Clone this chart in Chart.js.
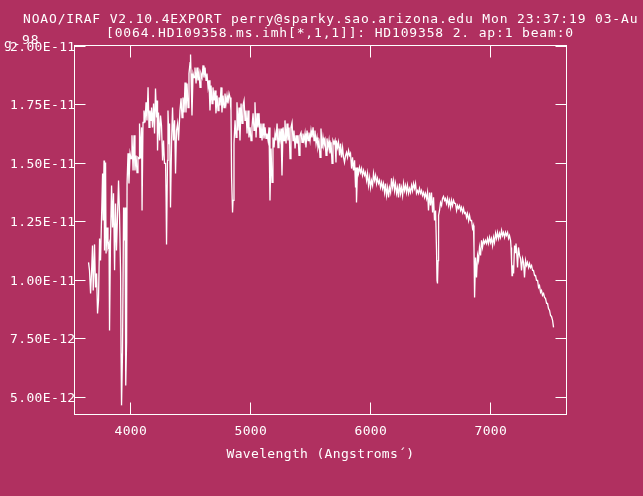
<!DOCTYPE html>
<html><head><meta charset="utf-8">
<script src="https://cdn.jsdelivr.net/npm/chart.js@4.4.1/dist/chart.umd.min.js"></script>
<style>html,body{margin:0;padding:0;background:#b03060;overflow:hidden}canvas{display:block}</style>
</head><body>
<canvas id="c" width="643" height="496"></canvas>
<script>
// ---- texts ----
const titleLine1 = "NOAO/IRAF V2.10.4EXPORT perry@sparky.sao.arizona.edu Mon 23:37:19 03-Au";
const titleWrapA = "g-";
const titleWrapB = "98";
const titleLine2 = "[0064.HD109358.ms.imh[*,1,1]]: HD109358 2. ap:1 beam:0";
const xTitle = "Wavelength (Angstroms\u00B4)";

// ---- axes ----
const xRange = [3539, 7639];
const yRange = [0.425, 2.002];          // flux in units of 1E-11
const xTicks = [4000, 5000, 6000, 7000];
const yTicks = [0.5, 0.75, 1.0, 1.25, 1.5, 1.75, 2.0];
const yTickLabels = ["5.00E-12","7.50E-12","1.00E-11","1.25E-11","1.50E-11","1.75E-11","2.00E-11"];

// ---- spectrum (wavelength in Angstrom, flux in 1E-11) ----
const wlUV = [3656,3664,3673,3681,3689,3695,3706,3714,3723,3731,3739,3748,3756,3764,3773,3778,3785,3789,3798,3802,3810,3818,3827,3831,3839,3848,3856,3864,3873,3881,3889,3898,3906,3914,3923,3927,3931,3939,3948,3956,3960,3964,3968,3973,3977,3985,3993,4002,4010,4018,4027,4035,4043,4052,4060,4068,4077,4081,4089,4098,4102,4110,4118,4127,4135,4143,4152,4160,4168,4177];
const fluxUV = [1.075,1.041,0.942,1.032,1.147,0.955,1.152,0.968,1.028,0.857,0.912,1.177,1.083,1.254,1.455,1.254,1.511,1.126,1.502,1.113,1.224,1.139,1.156,0.784,1.169,1.404,1.224,1.370,1.041,1.327,1.126,1.284,1.425,1.284,1.028,0.686,0.464,0.686,1.310,1.169,1.310,0.622,0.549,0.733,1.412,1.541,1.412,1.541,1.519,1.618,1.468,1.618,1.468,1.532,1.459,1.524,1.519,1.669,1.519,1.652,1.297,1.673,1.724,1.673,1.759,1.682,1.823,1.652,1.724,1.682];

const wlBlue = [4181,4189,4198,4206,4214,4223,4227,4231,4239,4248,4256,4264,4273,4281,4289,4298,4302,4306,4314,4318,4327,4331,4339,4348,4356,4364,4373,4381,4389,4398,4406,4418,4427,4435,4443,4452,4460,4468,4477,4485,4493,4502,4506,4510,4518,4527,4535,4543,4552,4560,4568,4577,4585,4593,4602,4610,4618,4627,4635,4643,4652,4660,4668,4677,4685,4693,4702,4710,4718,4727,4735,4743,4752,4760,4768,4777,4785,4793,4802,4810,4818,4827,4835];
const fluxBlue = [1.737,1.652,1.754,1.626,1.818,1.694,1.767,1.553,1.716,1.596,1.703,1.660,1.511,1.596,1.498,1.498,1.353,1.152,1.511,1.724,1.583,1.669,1.310,1.596,1.737,1.596,1.682,1.455,1.639,1.669,1.596,1.724,1.776,1.694,1.780,1.716,1.844,1.716,1.840,1.737,1.882,1.929,1.964,1.882,1.703,1.882,1.865,1.908,1.840,1.908,1.853,1.882,1.823,1.882,1.865,1.917,1.865,1.908,1.853,1.882,1.823,1.853,1.724,1.831,1.754,1.823,1.767,1.810,1.712,1.788,1.724,1.780,1.746,1.823,1.716,1.788,1.737,1.797,1.754,1.788,1.754,1.797,1.780];

const wlGreen = [4843,4848,4856,4860,4868,4877,4885,4893,4902,4910,4918,4927,4935,4943,4952,4960,4968,4977,4985,4993,5002,5010,5018,5027,5035,5043,5052,5060,5068,5077,5085,5093,5102,5110,5118,5127,5135,5143,5152,5160,5168,5177,5185,5193,5202,5210,5218,5227,5235,5243,5252,5260,5268,5277,5285,5293,5302,5310,5318,5327,5335,5343,5352,5360,5368,5377,5385,5393,5402,5410,5418,5427,5435,5443,5452,5460,5468,5477,5485,5493,5502,5510,5518,5527,5535,5543,5552,5560,5568,5577,5585,5593,5602,5610,5618,5627,5635,5643,5652,5660,5668,5677,5685,5693,5702,5710];
const fluxGreen = [1.724,1.438,1.288,1.340,1.583,1.682,1.609,1.759,1.639,1.737,1.596,1.754,1.669,1.746,1.767,1.682,1.724,1.626,1.724,1.609,1.652,1.596,1.652,1.712,1.639,1.759,1.609,1.712,1.652,1.712,1.609,1.669,1.596,1.669,1.605,1.652,1.605,1.626,1.596,1.652,1.340,1.562,1.417,1.609,1.566,1.626,1.596,1.669,1.566,1.647,1.605,1.647,1.447,1.652,1.596,1.682,1.583,1.669,1.596,1.652,1.519,1.652,1.673,1.596,1.639,1.562,1.618,1.583,1.618,1.532,1.618,1.630,1.588,1.626,1.596,1.626,1.566,1.639,1.596,1.630,1.596,1.639,1.609,1.652,1.596,1.639,1.583,1.609,1.566,1.588,1.524,1.647,1.562,1.609,1.575,1.596,1.532,1.605,1.566,1.596,1.541,1.588,1.498,1.596,1.583,1.596];

const wlRed = [5718,5722,5731,5739,5748,5756,5764,5773,5781,5789,5798,5806,5814,5823,5831,5839,5848,5856,5864,5873,5881,5885,5889,5898,5906,5914,5923,5931,5939,5948,5956,5964,5973,5981,5989,5998,6006,6014,6023,6031,6039,6048,6056,6064,6073,6081,6089,6098,6106,6114,6123,6131,6139,6148,6156,6164,6173,6181,6189,6198,6206,6214,6223,6231,6239,6248,6256,6264,6273,6281,6289,6298,6306,6314,6323,6331,6339,6348,6356,6364,6373,6381,6389,6398,6406,6414,6423,6431,6439,6448,6456,6464,6473,6481,6489,6498,6506,6514,6523,6531,6539,6548,6556,6560,6564,6569,6573,6581,6589,6598,6606];
const fluxRed = [1.502,1.596,1.566,1.588,1.532,1.583,1.524,1.566,1.524,1.502,1.532,1.545,1.524,1.553,1.532,1.541,1.476,1.524,1.468,1.511,1.395,1.481,1.331,1.481,1.455,1.481,1.459,1.476,1.447,1.468,1.447,1.459,1.425,1.455,1.404,1.438,1.395,1.425,1.404,1.455,1.425,1.447,1.412,1.434,1.412,1.425,1.395,1.417,1.391,1.412,1.374,1.412,1.361,1.395,1.353,1.395,1.374,1.434,1.395,1.425,1.382,1.412,1.370,1.395,1.353,1.412,1.370,1.395,1.361,1.412,1.382,1.404,1.374,1.404,1.370,1.391,1.374,1.404,1.382,1.412,1.391,1.412,1.370,1.382,1.370,1.391,1.370,1.382,1.361,1.374,1.353,1.370,1.348,1.374,1.297,1.374,1.318,1.374,1.288,1.353,1.254,1.297,1.126,0.998,0.985,1.083,1.276,1.297,1.331,1.318,1.348];

const wlFarRed = [6614,6623,6631,6639,6648,6656,6664,6673,6681,6689,6698,6706,6714,6723,6731,6739,6748,6756,6764,6773,6781,6789,6798,6806,6814,6823,6831,6839,6848,6856,6864,6868,6873,6881,6889,6898,6906,6914,6923,6931,6939,6948,6956,6964,6973,6981,6989,6998,7006,7014,7023,7031,7039,7048,7056,7064,7073,7081,7089,7098,7106,7114,7123,7131,7139,7148,7156,7164,7173,7177,7181,7185,7189,7198,7206,7214,7218,7223,7231,7239,7248,7256,7264,7273,7281,7289,7298,7306,7314,7323,7331,7339,7348,7356,7364,7373,7381,7389,7398,7406,7414,7423,7431,7439,7448,7456,7464,7473,7481,7489,7498,7506,7514,7523,7531];
const fluxFarRed = [1.357,1.340,1.348,1.327,1.348,1.318,1.340,1.310,1.340,1.318,1.340,1.327,1.327,1.297,1.318,1.306,1.318,1.297,1.310,1.288,1.306,1.284,1.288,1.267,1.284,1.254,1.276,1.254,1.254,1.220,1.233,1.139,0.925,1.096,1.011,1.105,1.083,1.139,1.105,1.169,1.139,1.169,1.156,1.169,1.156,1.177,1.156,1.182,1.160,1.177,1.147,1.182,1.160,1.199,1.177,1.203,1.177,1.199,1.182,1.212,1.190,1.203,1.182,1.203,1.190,1.203,1.177,1.190,1.169,1.139,1.083,1.019,1.062,1.028,1.147,1.117,1.156,1.126,1.053,1.139,1.105,1.092,1.041,1.092,1.075,1.011,1.083,1.062,1.075,1.053,1.070,1.053,1.062,1.041,1.041,1.019,1.019,0.998,0.998,0.968,0.976,0.947,0.955,0.934,0.942,0.925,0.921,0.900,0.900,0.878,0.870,0.848,0.844,0.827,0.797];

// ---- build points ----
const segments = [[wlUV, fluxUV],[wlBlue, fluxBlue],[wlGreen, fluxGreen],[wlRed, fluxRed],[wlFarRed, fluxFarRed]];
const points = [];
segments.forEach(([w, f]) => {
  const n = Math.min(w.length, f.length);
  for (let i = 0; i < n; i++) points.push({x: w[i], y: f[i]});
});

// ---- style ----
const BG = '#b03060';
const FG = '#ffffff';
const MONO = "'DejaVu Sans Mono', monospace";

const framePlugin = {
  id: 'iraf',
  beforeDraw(chart) {
    const c = chart.ctx;
    c.save(); c.fillStyle = BG; c.fillRect(0, 0, chart.width, chart.height); c.restore();
    c.letterSpacing = '0.35px';
  },
  afterDraw(chart) {
    const c = chart.ctx, a = chart.chartArea, xs = chart.scales.x, ys = chart.scales.y;
    c.save();
    c.letterSpacing = '0px';
    c.strokeStyle = FG; c.lineWidth = 1;
    c.strokeRect(a.left, a.top, a.right - a.left, a.bottom - a.top);
    c.beginPath();
    xs.ticks.forEach(t => {
      const p = Math.round(xs.getPixelForValue(t.value)) + 0.5;
      c.moveTo(p, a.bottom); c.lineTo(p, a.bottom - 12);
      c.moveTo(p, a.top); c.lineTo(p, a.top + 12);
    });
    ys.ticks.forEach(t => {
      const p = Math.round(ys.getPixelForValue(t.value)) + 0.5;
      c.moveTo(a.left, p); c.lineTo(a.left + 11, p);
      c.moveTo(a.right, p); c.lineTo(a.right - 11, p);
    });
    c.stroke();
    c.fillStyle = FG;
    c.font = '13px ' + MONO;
    c.textBaseline = 'alphabetic';
    c.textAlign = 'left';
    c.letterSpacing = '0.84px';
    c.fillText(titleLine1, 23, 23);
    c.fillText(titleLine2, 106, 37);
    c.fillText(titleWrapA, 4, 48);
    c.fillText(titleWrapB, 22, 44);
    c.restore();
  }
};

new Chart(document.getElementById('c'), {
  type: 'line',
  data: { datasets: [{
    data: points, borderColor: FG, borderWidth: 1.3, pointRadius: 0, tension: 0, fill: false
  }]},
  options: {
    responsive: false, animation: false, devicePixelRatio: 1,
    layout: { padding: { left: 0, top: 45.5, right: 76.5, bottom: 0 } },
    plugins: { legend: { display: false }, tooltip: { enabled: false }, title: { display: false } },
    scales: {
      x: {
        type: 'linear', min: xRange[0], max: xRange[1],
        afterBuildTicks: s => { s.ticks = xTicks.map(v => ({ value: v })); },
        afterFit: s => { s.height = 81.5; },
        grid: { display: false, drawTicks: false }, border: { display: false },
        ticks: { color: FG, font: { family: MONO, size: 13 }, padding: 9, maxRotation: 0, autoSkip: false,
                 labelOffset: 1, callback: v => String(v) },
        title: { display: true, text: xTitle, color: FG, font: { family: MONO, size: 13 }, padding: { top: 0, bottom: 34 } }
      },
      y: {
        type: 'linear', min: yRange[0], max: yRange[1],
        afterBuildTicks: s => { s.ticks = yTicks.map(v => ({ value: v })); },
        afterFit: s => { s.width = 74.5; },
        grid: { display: false, drawTicks: false }, border: { display: false },
        ticks: { color: FG, font: { family: MONO, size: 13 }, padding: -1, autoSkip: false, labelOffset: 1.5,
                 callback: v => yTickLabels[yTicks.indexOf(v)] }
      }
    }
  },
  plugins: [framePlugin]
});
</script>
</body></html>
